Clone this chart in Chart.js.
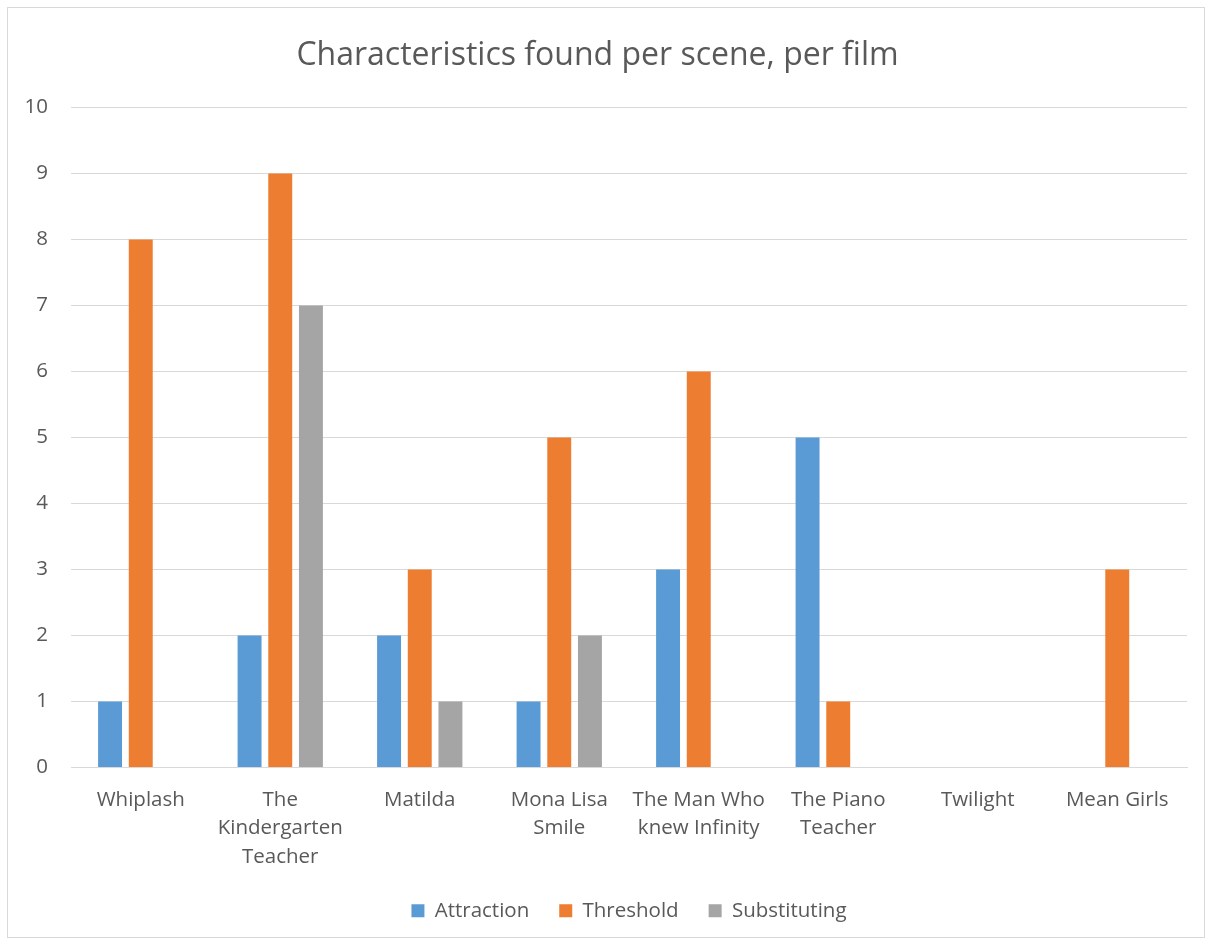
<!DOCTYPE html>
<html>
<head>
<meta charset="utf-8">
<script src="https://cdn.jsdelivr.net/npm/chart.js@4/dist/chart.umd.min.js"></script>
<style>
  body { margin: 0; background: #fff; }
  #frame { position: absolute; left: 7px; top: 7px; width: 1198px; height: 931px; border: 1px solid #d9d9d9; box-sizing: border-box; }
  #frame canvas { display: block; }
</style>
</head>
<body>
<div id="frame"><canvas id="chart"></canvas></div>
<script>
// Data
const films = [
    'Whiplash',
    ['The', 'Kindergarten', 'Teacher'],
    'Matilda',
    ['Mona Lisa', 'Smile'],
    ['The Man Who', 'knew Infinity'],
    ['The Piano', 'Teacher'],
    'Twilight',
    'Mean Girls'
];
const attraction   = [1, 2, 2, 1, 3, 5, 0, 0];
const threshold    = [8, 9, 3, 5, 6, 1, 0, 3];
const substituting = [0, 7, 1, 2, 0, 0, 0, 0];

const font = "'Open Sans', sans-serif";
const txt = '#595959';

const ctx = document.getElementById('chart').getContext('2d');
new Chart(ctx, {
    type: 'bar',
    data: {
        labels: films,
        datasets: [
            { label: 'Attraction', data: attraction, backgroundColor: '#5b9bd5' },
            { label: 'Threshold', data: threshold, backgroundColor: '#ed7d31' },
            { label: 'Substituting', data: substituting, backgroundColor: '#a5a5a5' }
        ]
    },
    options: {
        responsive: true,
        maintainAspectRatio: false,
        animation: false,
        categoryPercentage: 0.66,
        barPercentage: 0.78,
        layout: { padding: { left: 0, right: 17, top: 0, bottom: 6 } },
        plugins: {
            title: {
                display: true,
                text: 'Characteristics found per scene, per film',
                color: txt,
                font: { family: font, size: 32, weight: 'normal' },
                padding: { top: 29, bottom: 32 }
            },
            legend: {
                position: 'bottom',
                fullSize: false,
                labels: {
                    color: txt,
                    font: { family: font, size: 20.5 },
                    boxWidth: 13,
                    boxHeight: 13,
                    padding: 30
                }
            },
            tooltip: { enabled: false }
        },
        scales: {
            x: {
                afterFit: s => { s.height -= 19; },
                grid: { display: false, drawTicks: false },
                border: { color: '#d9d9d9', width: 1 },
                ticks: {
                    color: txt,
                    font: { family: font, size: 20.5, lineHeight: 1.4 },
                    padding: 18,
                    maxRotation: 0,
                    autoSkip: false
                }
            },
            y: {
                min: 0,
                max: 10,
                afterFit: s => { s.width = 63; },
                grid: { color: '#d9d9d9', drawTicks: false },
                border: { display: false },
                ticks: {
                    stepSize: 1,
                    color: txt,
                    font: { family: font, size: 20.5 },
                    padding: 23
                }
            }
        }
    }
});
</script>
</body>
</html>
